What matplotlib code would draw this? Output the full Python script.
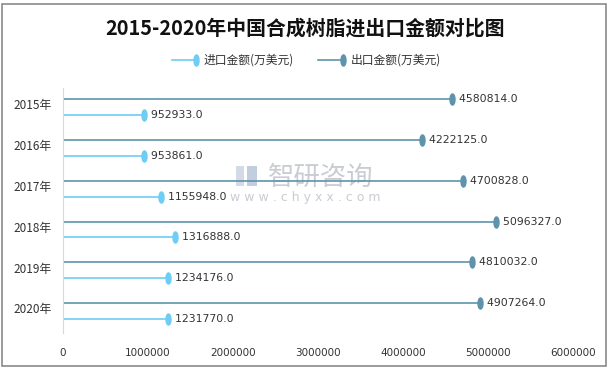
import matplotlib.pyplot as plt
import numpy as np
from matplotlib.path import Path
from matplotlib.lines import Line2D
from matplotlib.patches import Rectangle

plt.rcParams['font.family'] = ['Noto Sans CJK SC', 'DejaVu Sans']

# data
years = ['2015年', '2016年', '2017年', '2018年', '2019年', '2020年']
imports = [952933.0, 953861.0, 1155948.0, 1316888.0, 1234176.0, 1231770.0]
exports = [4580814.0, 4222125.0, 4700828.0, 5096327.0, 4810032.0, 4907264.0]

c_imp = '#6dcdf5'
c_exp = '#5f93ab'

# vertical ellipse marker
t = np.linspace(0, 2 * np.pi, 40)
ell = Path(np.column_stack([0.45 * np.cos(t), np.sin(t)]))

fig = plt.figure(figsize=(6.11, 3.70), dpi=100)
ax = fig.add_axes([63 / 611, 1 - 333 / 370, 510 / 611, 245 / 370])
ax.patch.set_visible(False)

pos = np.arange(len(years))
for i in pos:
    ax.plot([0, exports[i]], [i - 0.23, i - 0.23], color=c_exp, lw=1.2)
    ax.plot([exports[i]], [i - 0.23], marker=ell, ms=8, color=c_exp, mec=c_exp)
    ax.text(exports[i], i - 0.23, '  %.1f' % exports[i], va='center', ha='left',
            fontsize=7.8, family='DejaVu Sans', color='#333333')
    ax.plot([0, imports[i]], [i + 0.16, i + 0.16], color=c_imp, lw=1.2)
    ax.plot([imports[i]], [i + 0.16], marker=ell, ms=8, color=c_imp, mec=c_imp)
    ax.text(imports[i], i + 0.16, '  %.1f' % imports[i], va='center', ha='left',
            fontsize=7.8, family='DejaVu Sans', color='#333333')

ax.set_xlim(0, 6000000)
ax.set_ylim(len(years) - 0.5, -0.5)
ax.set_xticks(np.arange(0, 6000001, 1000000))
ax.set_xticklabels(['%d' % v for v in np.arange(0, 6000001, 1000000)],
                   family='DejaVu Sans', fontsize=7.5)
ax.set_yticks(pos - 0.1)
ax.set_yticklabels(years, fontsize=8.5)
ax.tick_params(axis='both', length=0, colors='#333333')
ax.tick_params(axis='x', pad=11)
ax.tick_params(axis='y', pad=8)
for s in ['top', 'right', 'bottom']:
    ax.spines[s].set_visible(False)
ax.spines['left'].set_color('#d9d9d9')

# title
fig.text(0.5, 1 - 28 / 370, '2015-2020年中国合成树脂进出口金额对比图', ha='center', va='center',
         fontsize=14.3, fontweight='bold', color='#111111')

# legend
for x0, x1, col, lab in [(172, 196, c_imp, '进口金额(万美元)'), (318, 343, c_exp, '出口金额(万美元)')]:
    fig.add_artist(Line2D([x0 / 611, x1 / 611], [1 - 60 / 370] * 2, color=col, lw=1.2))
    fig.add_artist(Line2D([x1 / 611], [1 - 60 / 370], marker=ell, ms=8, color=col, mec=col))
    fig.text((x1 + 8) / 611, 1 - 60 / 370, lab, ha='left', va='center', fontsize=8.5, color='#333333')

# watermark (behind the plot)
fig.text(321 / 611, 1 - 177 / 370, '智研咨询', ha='center', va='center', fontsize=19,
         color='#c9ccd2', zorder=-1)
fig.text(305 / 611, 1 - 197 / 370, 'w w w . c h y x x . c o m', ha='center', va='center',
         fontsize=9, family='DejaVu Sans', color='#c9ccd2', zorder=-1)
fig.add_artist(Rectangle((236 / 611, 1 - 186 / 370), 8 / 611, 20 / 370, facecolor='#d3dae6',
                         edgecolor='none', zorder=-1))
fig.add_artist(Rectangle((247 / 611, 1 - 186 / 370), 10 / 611, 20 / 370, facecolor='#c3cde0',
                         edgecolor='none', zorder=-1))

# border
fig.add_artist(Rectangle((2 / 611, 4 / 370), 604 / 611, 362 / 370, fill=False,
                         edgecolor='#8a8a8a', lw=1.2))

fig.savefig('out.png', dpi=100)
